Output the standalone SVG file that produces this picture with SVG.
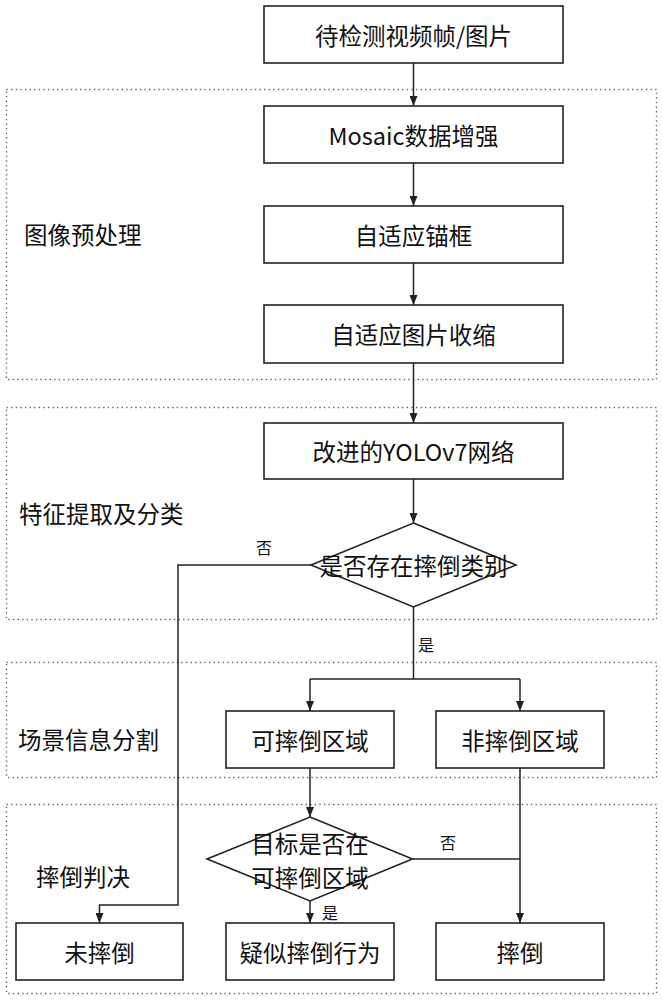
<svg xmlns="http://www.w3.org/2000/svg" width="662" height="1000" viewBox="0 0 662 1000">
<style>
.bg{fill:#fff}
.region{fill:none;stroke:#666;stroke-width:1.4;stroke-dasharray:1.4 3.2}
.box{fill:#fff;stroke:#222;stroke-width:1.6}
.t{font-family:"Noto Sans CJK SC","Liberation Sans",sans-serif;font-size:23.5px;fill:#111;text-anchor:middle;dominant-baseline:central}
.lbl{font-family:"Noto Sans CJK SC","Liberation Sans",sans-serif;font-size:23.5px;fill:#111;dominant-baseline:central}
.s{font-family:"Noto Sans CJK SC","Liberation Sans",sans-serif;font-size:16px;fill:#111;dominant-baseline:central}
.ln{fill:none;stroke:#222;stroke-width:1.5}
</style>
<defs>
<marker id="arr" viewBox="0 0 10 8" refX="10" refY="4" markerWidth="10" markerHeight="8" markerUnits="userSpaceOnUse" orient="auto">
<path d="M0,0 L10,4 L0,8 z" fill="#222"/>
</marker>
</defs>
<rect class="bg" width="662" height="1000"/>
<g id="regions">
<rect class="region" x="6.5" y="89.5" width="650" height="290"/>
<rect class="region" x="6.5" y="407.5" width="650" height="212"/>
<rect class="region" x="6.5" y="662.5" width="650" height="115"/>
<rect class="region" x="6.5" y="804.5" width="650" height="189"/>
<text class="lbl" x="24" y="234">图像预处理</text>
<text class="lbl" x="19" y="513">特征提取及分类</text>
<text class="lbl" x="18" y="739">场景信息分割</text>
<text class="lbl" x="36" y="876">摔倒判决</text>
</g>
<g id="connectors">
<line class="ln" x1="413.5" y1="63" x2="413.5" y2="106" marker-end="url(#arr)"/>
<line class="ln" x1="413.5" y1="163" x2="413.5" y2="206" marker-end="url(#arr)"/>
<line class="ln" x1="413.5" y1="263" x2="413.5" y2="305" marker-end="url(#arr)"/>
<line class="ln" x1="413.5" y1="363" x2="413.5" y2="423" marker-end="url(#arr)"/>
<line class="ln" x1="413.5" y1="479" x2="413.5" y2="523" marker-end="url(#arr)"/>
<polyline class="ln" points="311,565 178,565 178,905 99.5,905 99.5,923" marker-end="url(#arr)"/>
<polyline class="ln" points="413.5,607 413.5,679"/>
<polyline class="ln" points="310,679 520,679"/>
<line class="ln" x1="310" y1="679" x2="310" y2="711" marker-end="url(#arr)"/>
<line class="ln" x1="520" y1="679" x2="520" y2="711" marker-end="url(#arr)"/>
<line class="ln" x1="310" y1="768" x2="310" y2="817" marker-end="url(#arr)"/>
<line class="ln" x1="520" y1="768" x2="520" y2="923" marker-end="url(#arr)"/>
<line class="ln" x1="412.5" y1="859" x2="520" y2="859"/>
<line class="ln" x1="310" y1="901" x2="310" y2="923" marker-end="url(#arr)"/>
<text class="s" x="256" y="547">否</text>
<text class="s" x="418" y="644">是</text>
<text class="s" x="440" y="842">否</text>
<text class="s" x="322" y="912">是</text>
</g>
<g id="n1"><rect class="box" x="264" y="6" width="299" height="57"/><text class="t" x="413.5" y="34.5">待检测视频帧/图片</text></g>
<g id="n2"><rect class="box" x="264" y="106" width="299" height="57"/><text class="t" x="413.5" y="134.5">Mosaic数据增强</text></g>
<g id="n3"><rect class="box" x="264" y="206" width="299" height="57"/><text class="t" x="413.5" y="234.5">自适应锚框</text></g>
<g id="n4"><rect class="box" x="264" y="305" width="299" height="58"/><text class="t" x="413.5" y="334">自适应图片收缩</text></g>
<g id="n5"><rect class="box" x="264" y="423" width="299" height="56"/><text class="t" x="413.5" y="451">改进的YOLOv7网络</text></g>
<g id="d1"><polygon class="box" points="413.5,523 516,565 413.5,607 311,565"/><text class="t" x="413.5" y="565">是否存在摔倒类别</text></g>
<g id="n6"><rect class="box" x="226" y="711" width="168" height="57"/><text class="t" x="310" y="739.5">可摔倒区域</text></g>
<g id="n7"><rect class="box" x="436" y="711" width="168" height="57"/><text class="t" x="520" y="739.5">非摔倒区域</text></g>
<g id="d2"><polygon class="box" points="310,817 412.5,859 310,901 207,859"/><text class="t" x="310" y="843">目标是否在</text><text class="t" x="310" y="877">可摔倒区域</text></g>
<g id="n8"><rect class="box" x="16" y="923" width="167" height="57"/><text class="t" x="99.5" y="951.5">未摔倒</text></g>
<g id="n9"><rect class="box" x="226" y="923" width="168" height="57"/><text class="t" x="310" y="951.5">疑似摔倒行为</text></g>
<g id="n10"><rect class="box" x="436" y="923" width="168" height="57"/><text class="t" x="520" y="951.5">摔倒</text></g>
</svg>
